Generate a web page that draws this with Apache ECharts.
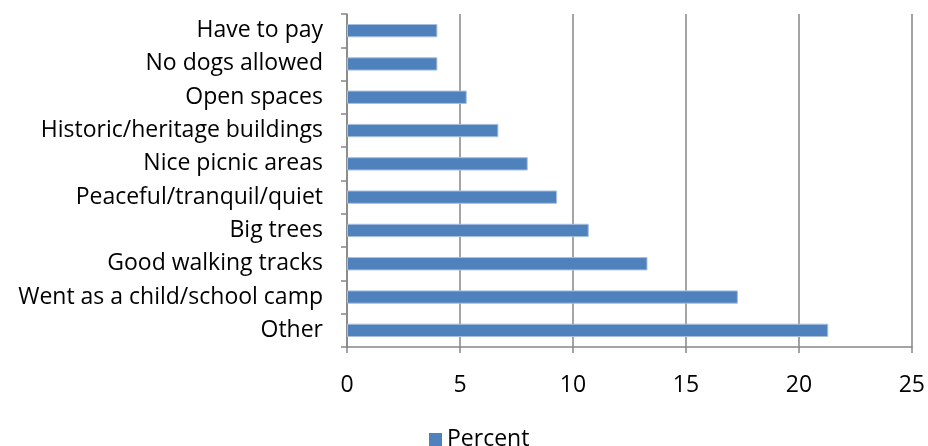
<!DOCTYPE html>
<html>
<head>
<meta charset="utf-8">
<script src="https://cdn.jsdelivr.net/npm/echarts@6/dist/echarts.min.js"></script>
<style>
html,body{margin:0;padding:0;background:#fff;}
#chart{width:928px;height:446px;}
</style>
</head>
<body>
<div id="chart"></div>
<script>
const categories = ["Other","Went as a child/school camp","Good walking tracks","Big trees","Peaceful/tranquil/quiet","Nice picnic areas","Historic/heritage buildings","Open spaces","No dogs allowed","Have to pay"];
const percentValues = [21.3,17.3,13.3,10.7,9.3,8.0,6.7,5.3,4.0,4.0];
const seriesName = "Percent";

const chart = echarts.init(document.getElementById('chart'));
const font = '"Open Sans", sans-serif';
chart.setOption({
  animation:false,
  textStyle:{fontFamily:font},
  grid:{left:347,right:16,top:14,bottom:99,containLabel:false},
  legend:{
    data:[seriesName],bottom:-10,left:424,
    icon:'rect',itemWidth:13,itemHeight:13,itemGap:6,
    itemStyle:{borderWidth:0},
    textStyle:{fontFamily:font,fontSize:23,color:'#000'}
  },
  xAxis:{
    type:'value',min:0,max:25,interval:5,
    axisLine:{show:true,lineStyle:{color:'#868686',width:1.5}},
    axisTick:{show:true,length:6,lineStyle:{color:'#868686',width:1.5}},
    axisLabel:{fontFamily:font,fontSize:23,color:'#000',margin:27},
    splitLine:{show:true,lineStyle:{color:'#868686',width:1.5}}
  },
  yAxis:{
    type:'category',data:categories,
    axisLine:{show:true,lineStyle:{color:'#868686',width:1.5}},
    axisTick:{show:true,length:6,inside:false,lineStyle:{color:'#868686',width:1.5}},
    axisLabel:{fontFamily:font,fontSize:23,color:'#000',margin:24,padding:[3,0,0,0]},
    splitLine:{show:false}
  },
  series:[{
    name:seriesName,type:'bar',data:percentValues,
    barCategoryGap:'60%',
    itemStyle:{color:'#4F81BD',borderColor:'#A7BFDE',borderWidth:1}
  }]
});
</script>
</body>
</html>
